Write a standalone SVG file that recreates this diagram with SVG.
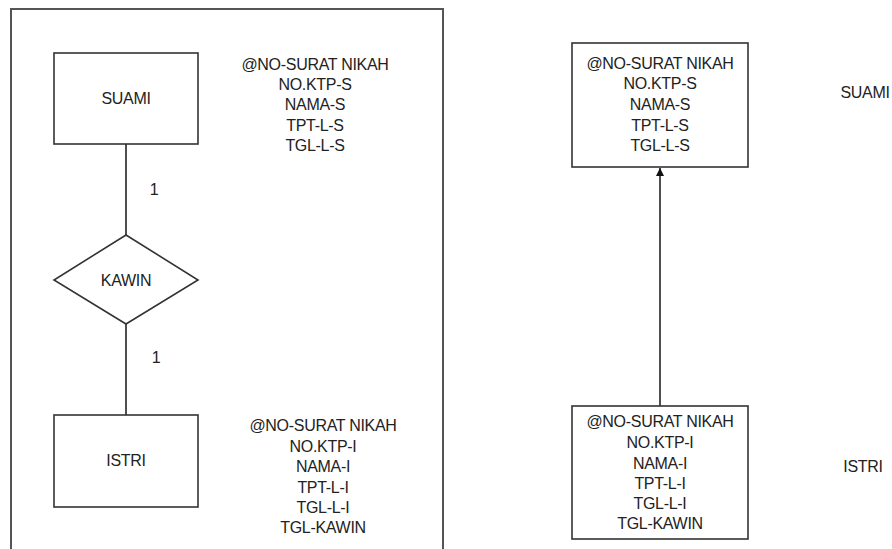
<svg xmlns="http://www.w3.org/2000/svg" width="892" height="549" viewBox="0 0 892 549">
<style>
text{font-family:"Liberation Sans",Arial,sans-serif;font-size:16px;fill:#222;text-anchor:middle;dominant-baseline:central;letter-spacing:-0.3px}
.box{fill:#fff;stroke:#333;stroke-width:1.6}
.ln{stroke:#222;stroke-width:1.6;fill:none}
.frame{fill:none;stroke:#555;stroke-width:2}
</style>
<defs>
<marker id="arr" viewBox="0 0 10 10" refX="10" refY="5" markerWidth="10" markerHeight="8" markerUnits="userSpaceOnUse" orient="auto">
<path d="M0,0 L10,5 L0,10 Z" fill="#111"/>
</marker>
</defs>
<path class="frame" d="M11,552 L11,9 L443,9 L443,552"/>
<g id="connectors">
<line class="ln" x1="126" y1="144" x2="126" y2="235"/>
<line class="ln" x1="126" y1="324" x2="126" y2="415"/>
<text x="154" y="189">1</text>
<text x="156" y="357">1</text>
<line class="ln" x1="660" y1="406" x2="660" y2="168" marker-end="url(#arr)"/>
</g>
<g id="suami">
<rect class="box" x="54" y="53" width="144" height="91"/>
<text x="126" y="98">SUAMI</text>
</g>
<g id="kawin">
<polygon class="box" points="126,235 198,280 126,324 54,280"/>
<text x="126" y="280">KAWIN</text>
</g>
<g id="istri">
<rect class="box" x="54" y="415" width="144" height="92"/>
<text x="126" y="460">ISTRI</text>
</g>
<g id="attr-suami">
<text x="315" y="64">@NO-SURAT NIKAH</text>
<text x="315" y="84">NO.KTP-S</text>
<text x="315" y="104">NAMA-S</text>
<text x="315" y="125">TPT-L-S</text>
<text x="315" y="145">TGL-L-S</text>
</g>
<g id="attr-istri">
<text x="323" y="425">@NO-SURAT NIKAH</text>
<text x="323" y="446">NO.KTP-I</text>
<text x="323" y="466">NAMA-I</text>
<text x="323" y="487">TPT-L-I</text>
<text x="323" y="507">TGL-L-I</text>
<text x="323" y="527">TGL-KAWIN</text>
</g>
<g id="table-suami">
<rect class="box" x="572" y="43" width="176" height="124"/>
<text x="660" y="63">@NO-SURAT NIKAH</text>
<text x="660" y="83">NO.KTP-S</text>
<text x="660" y="104">NAMA-S</text>
<text x="660" y="125">TPT-L-S</text>
<text x="660" y="145">TGL-L-S</text>
</g>
<g id="table-istri">
<rect class="box" x="572" y="406" width="176" height="133"/>
<text x="660" y="421">@NO-SURAT NIKAH</text>
<text x="660" y="442">NO.KTP-I</text>
<text x="660" y="463">NAMA-I</text>
<text x="660" y="483">TPT-L-I</text>
<text x="660" y="503">TGL-L-I</text>
<text x="660" y="523">TGL-KAWIN</text>
</g>
<g id="label-suami"><text x="865" y="92">SUAMI</text></g>
<g id="label-istri"><text x="863" y="466">ISTRI</text></g>
</svg>
